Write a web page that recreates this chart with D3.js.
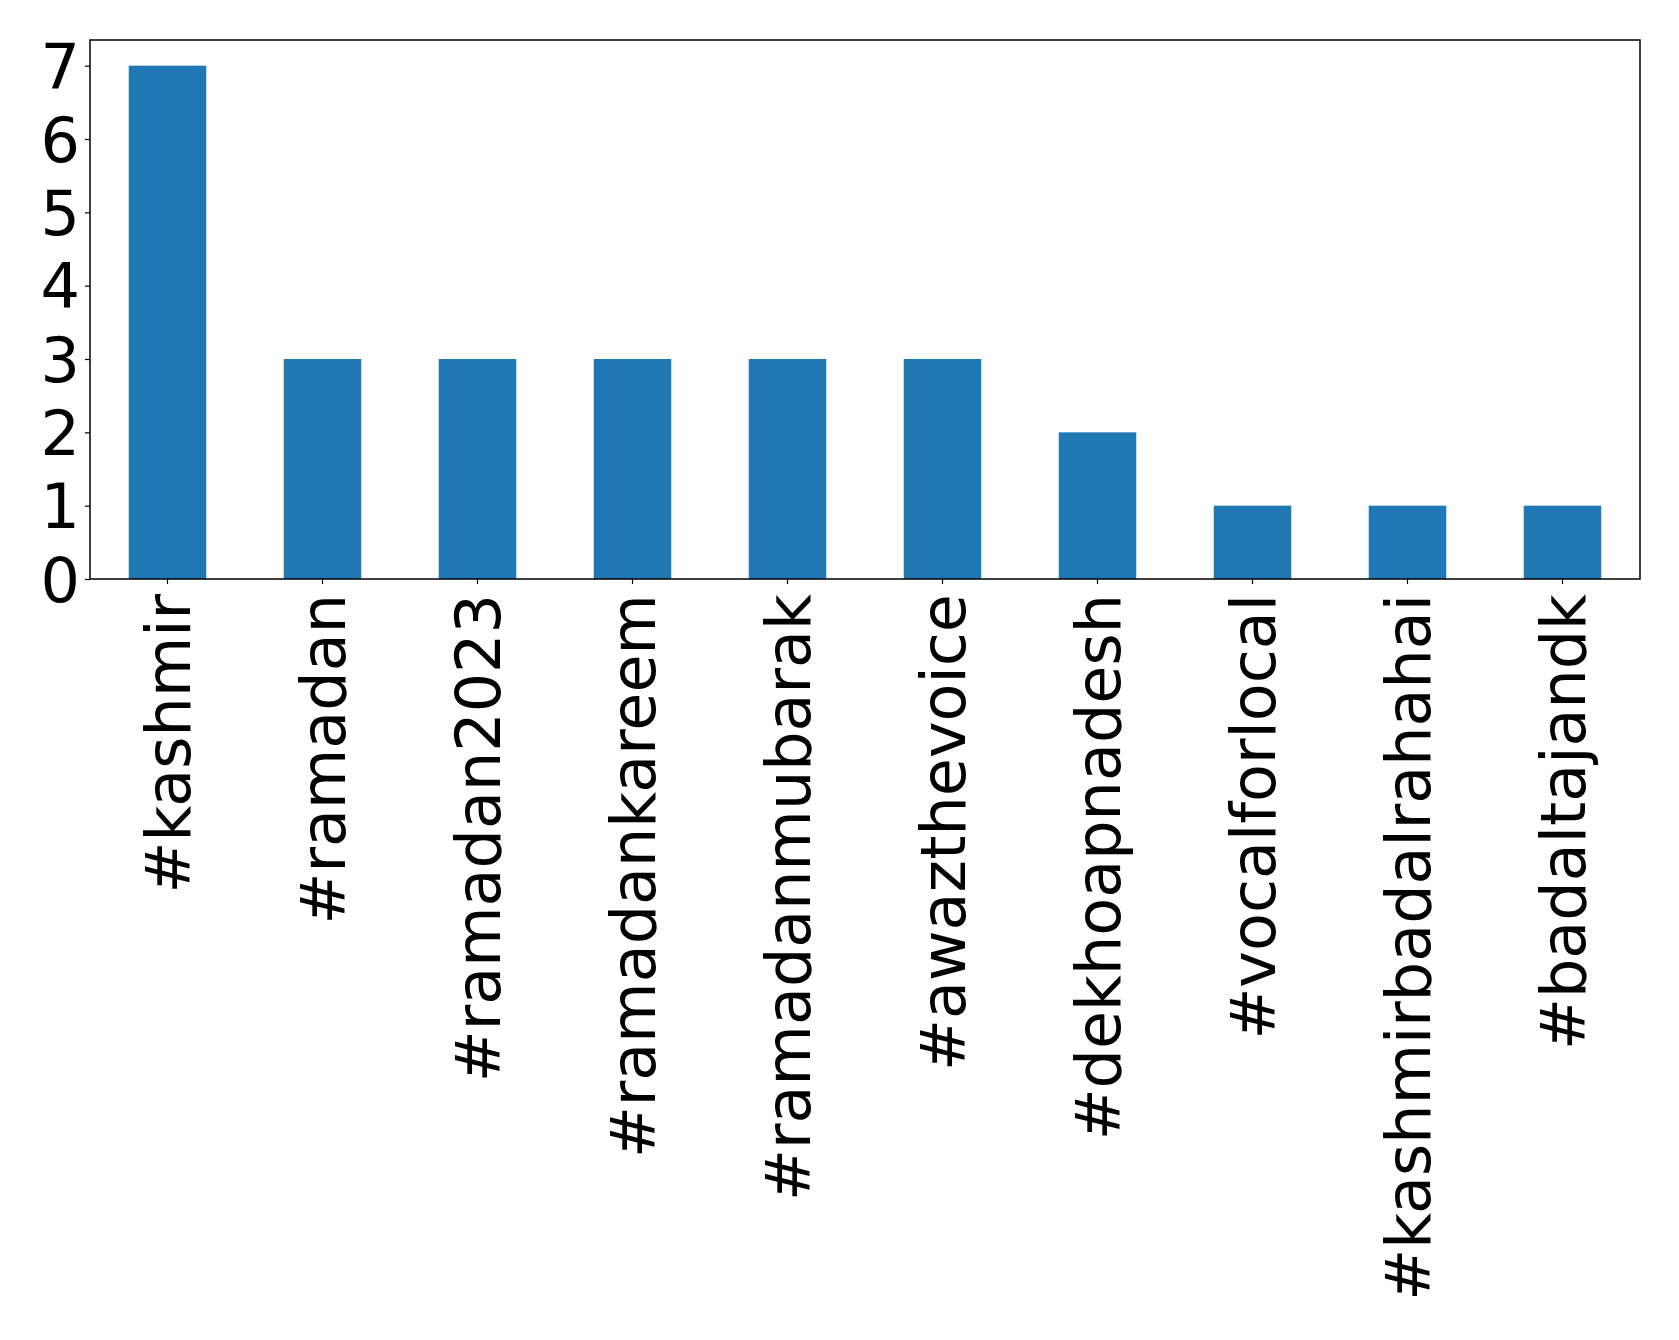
<!DOCTYPE html>
<html>
<head>
<meta charset="utf-8">
<script src="https://cdn.jsdelivr.net/npm/d3@7"></script>
<style>
  html, body { margin: 0; padding: 0; background: #fff; }
  svg { display: block; }
</style>
</head>
<body>
<script>
const categories = ["#kashmir", "#ramadan", "#ramadan2023", "#ramadankareem", "#ramadanmubarak", "#awazthevoice", "#dekhoapnadesh", "#vocalforlocal", "#kashmirbadalrahahai", "#badaltajandk"];
const counts = [7, 3, 3, 3, 3, 3, 2, 1, 1, 1];
const yTicks = [0, 1, 2, 3, 4, 5, 6, 7];

const W = 1679, H = 1340;
const mLeft = 90, mRight = 1640, mTop = 40, mBottom = 579;
const fontSize = 62;

const svg = d3.select("body").append("svg").attr("width", W).attr("height", H)
  .style("font-family", "'DejaVu Sans', sans-serif");

const x = d3.scaleBand().domain(categories).range([mLeft, mRight]).paddingInner(0.5).paddingOuter(0.25);
const y = d3.scaleLinear().domain([0, 7.35]).range([mBottom, mTop]);

svg.append("g").selectAll("rect").data(categories).join("rect")
  .attr("x", d => x(d))
  .attr("width", x.bandwidth())
  .attr("y", (d, i) => y(counts[i]))
  .attr("height", (d, i) => y(0) - y(counts[i]))
  .attr("fill", "#1f77b4");

// y axis
const yAxis = d3.axisLeft(y).tickValues(yTicks).tickSize(5).tickPadding(5).tickFormat(d3.format("d"));
const gy = svg.append("g").attr("transform", `translate(${mLeft},0)`).call(yAxis);
gy.select(".domain").remove();
gy.selectAll(".tick line").attr("stroke", "#000").attr("stroke-width", 1.2);
gy.selectAll(".tick text").attr("font-size", fontSize).attr("fill", "#000")
  .attr("font-family", "'DejaVu Sans', sans-serif").attr("dy", "0.36em");

// x axis
const xAxis = d3.axisBottom(x).tickSize(5).tickPadding(0);
const gx = svg.append("g").attr("transform", `translate(0,${mBottom})`).call(xAxis);
gx.select(".domain").remove();
gx.selectAll(".tick line").attr("stroke", "#000").attr("stroke-width", 1.2);
gx.selectAll(".tick text")
  .attr("font-size", fontSize).attr("fill", "#000")
  .attr("font-family", "'DejaVu Sans', sans-serif")
  .attr("transform", "translate(0,15) rotate(-90)")
  .attr("x", 0).attr("y", 0).attr("dy", "0.36em")
  .attr("text-anchor", "end");

// frame
svg.append("rect").attr("x", mLeft).attr("y", mTop).attr("width", mRight - mLeft).attr("height", mBottom - mTop)
  .attr("fill", "none").attr("stroke", "#000").attr("stroke-width", 1.5);
</script>
</body>
</html>
